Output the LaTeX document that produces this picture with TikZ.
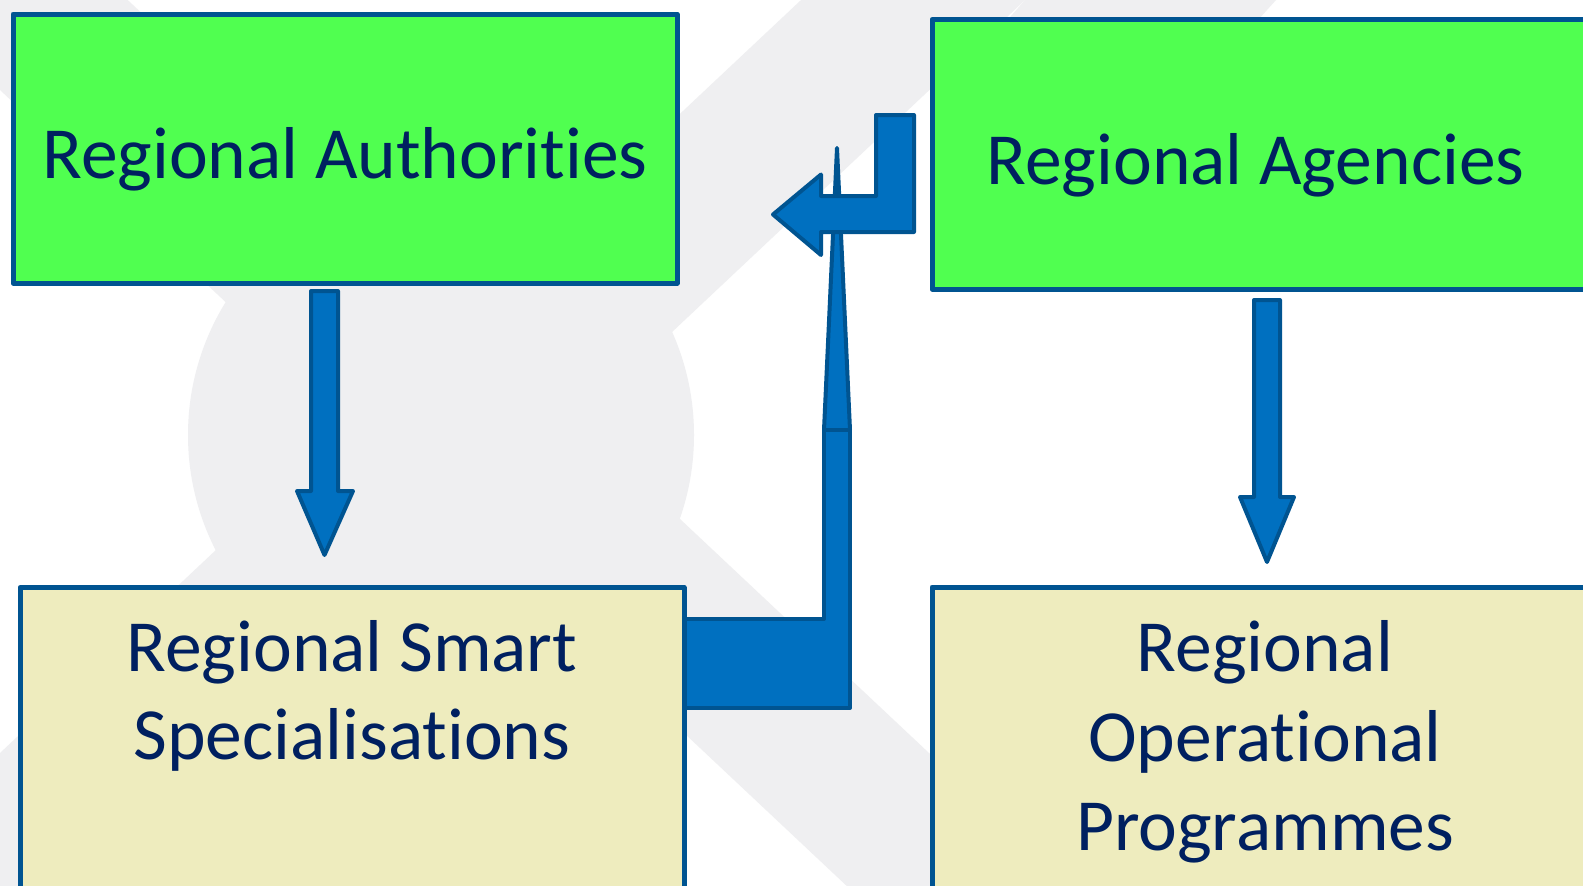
\documentclass[tikz,border=0pt]{standalone}
\usepackage{fontspec}
\setmainfont{Carlito}[Ligatures={NoCommon,NoRare,NoContextual}]
\usetikzlibrary{calc}
\definecolor{bggray}{RGB}{239,239,241}
\definecolor{boxline}{RGB}{0,84,145}
\definecolor{greenfill}{RGB}{80,255,80}
\definecolor{tanfill}{RGB}{238,236,190}
\definecolor{arrowfill}{RGB}{0,112,192}
\definecolor{textnavy}{RGB}{0,32,96}
\begin{document}
\begin{tikzpicture}[x=1pt,y=-1pt,
  box/.style={draw=boxline, line width=5pt, line join=round, inner sep=0pt, outer sep=0pt, anchor=north west},
  lbl/.style={text=textnavy, font=\fontsize{73.5}{88}\selectfont, anchor=base, inner sep=0pt},
  blockarrow/.style={draw=boxline, fill=arrowfill, line width=4pt, line join=round, line cap=round},
  bg/.style={fill=bggray, draw=none}]
\useasboundingbox (0,0) rectangle (1583,886);
\clip (0,0) rectangle (1583,886);
% background logo
\fill[white] (0,0) rectangle (1583,886);
\path[bg] (0,-120) -- (1128,940) -- (1000,1030) -- (0,90) -- cycle;
\path[bg] (850,-46) -- (1074,-46) -- (-50,1011) -- (-50,800) -- cycle;
\path[bg] (1025,0) -- (1276,0) -- (1240,40) -- (990,40) -- cycle;
\path[bg] (441,435) circle[radius=253];
% named points of the connectors
\coordinate (spiketop) at (837,148);
\coordinate (lfoot) at (683,619);
% spike and L-shaped connector
\draw[blockarrow] (spiketop) -- (850,430) -- (824,430) -- cycle;
\draw[blockarrow] (lfoot) -- (824,619) -- (824,430) -- (850,430) -- (850,708) -- (683,708) -- cycle;
% bent arrow from Regional Agencies
\draw[blockarrow] (876,115) -- (914,115) -- (914,232) -- (821,232) -- (821,255) -- (773,214.5) -- (821,174.5) -- (821,196) -- (876,196) -- cycle;
% boxes
\node[box, fill=greenfill, minimum width=664pt, minimum height=269pt] (auth) at (13,14) {};
\node[box, fill=greenfill, minimum width=700pt, minimum height=269.5pt] (agen) at (932,19.5) {};
\node[box, fill=tanfill, minimum width=664pt, minimum height=400pt] (rss) at (20,587.5) {};
\node[box, fill=tanfill, minimum width=700pt, minimum height=400pt] (rop) at (932,587) {};
% down arrows
\coordinate (a1) at (311,291);
\coordinate (a2) at (1254,300);
\draw[blockarrow] (a1) -- (338,291) -- (338,491) -- (353,491) -- (324.5,555) -- (297,491) -- (311,491) -- cycle;
\draw[blockarrow] (a2) -- (1280,300) -- (1280,497) -- (1294,497) -- (1267,562) -- (1240,497) -- (1254,497) -- cycle;
% texts
\node[lbl] (authtxt) at (345,178) {Regional Authorities};
\node[lbl] (agtxt) at (1255.5,184) {Regional Agencies};
\node[lbl] (rss1) at (352,671) {Regional Smart};
\node[lbl] (rss2) at (352,759) {Specialisations};
\node[lbl] (rop1) at (1265,671) {Regional};
\node[lbl] (rop2) at (1265,761) {Operational};
\node[lbl] (rop3) at (1265,850) {Programmes};
\end{tikzpicture}
\end{document}
